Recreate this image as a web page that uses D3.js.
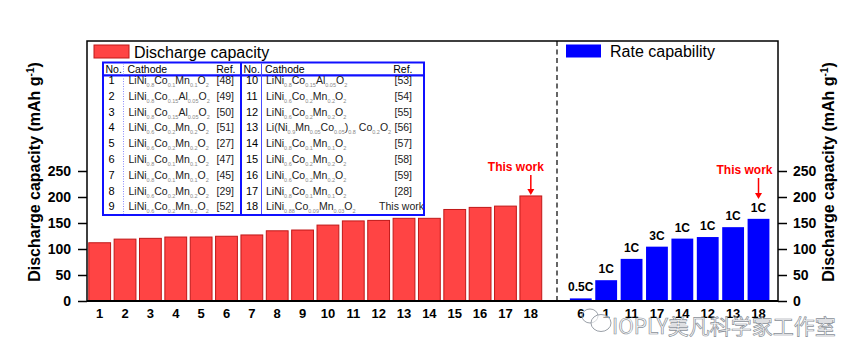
<!DOCTYPE html>
<html><head><meta charset="utf-8">
<script src="https://cdn.jsdelivr.net/npm/d3@7"></script>
<style>body{margin:0;background:#fff}svg{display:block}</style>
</head><body><svg id="c" width="865" height="361"></svg>
<script>
// ---- data ----
const capCategories = ["1","2","3","4","5","6","7","8","9","10","11","12","13","14","15","16","17","18"];
const capValues = [112,119,120.5,123,123,124.5,127,135,136.5,146,154,155,159,159,176,180,182.5,202];
const rateCategories = ["6","1","11","17","14","12","13","18"];
const rateValues = [5,40,81,104.5,120,123,142,158];
const rateLabels = ["0.5C","1C","1C","3C","1C","1C","1C","1C"];
const yTicks = [0,50,100,150,200,250];
const tableNo = ["1","2","3","4","5","6","7","8","9","10","11","12","13","14","15","16","17","18"];
const tableCathode = [
 "LiNi_{0.8}Co_{0.1}Mn_{0.1}O_{2}","LiNi_{0.8}Co_{0.15}Al_{0.05}O_{2}","LiNi_{0.8}Co_{0.15}Al_{0.05}O_{2}",
 "LiNi_{0.6}Co_{0.2}Mn_{0.2}O_{2}","LiNi_{0.6}Co_{0.2}Mn_{0.2}O_{2}","LiNi_{0.8}Co_{0.1}Mn_{0.1}O_{2}",
 "LiNi_{0.8}Co_{0.1}Mn_{0.1}O_{2}","LiNi_{0.6}Co_{0.2}Mn_{0.2}O_{2}","LiNi_{0.6}Co_{0.2}Mn_{0.2}O_{2}",
 "LiNi_{0.8}Co_{0.15}Al_{0.05}O_{2}","LiNi_{0.6}Co_{0.2}Mn_{0.2}O_{2}","LiNi_{0.6}Co_{0.2}Mn_{0.2}O_{2}",
 "Li(Ni_{0.9}Mn_{0.05}Co_{0.05})_{0.8} Co_{0.2}O_{2}","LiNi_{0.8}Co_{0.1}Mn_{0.1}O_{2}","LiNi_{0.6}Co_{0.2}Mn_{0.2}O_{2}",
 "LiNi_{0.6}Co_{0.2}Mn_{0.2}O_{2}","LiNi_{0.8}Co_{0.1}Mn_{0.1}O_{2}","LiNi_{0.88}Co_{0.09}Mn_{0.03}O_{2}"];
const tableRef = ["[48]","[49]","[50]","[51]","[27]","[47]","[45]","[29]","[52]","[53]","[54]","[55]","[56]","[57]","[58]","[59]","[28]","This work"];

// ---- layout ----
const svg = d3.select("#c");
const F = "'Liberation Sans', Arial, sans-serif";
const L = 87, R = 778, T = 41, B = 301, DIV = 557;
const y = d3.scaleLinear().domain([0,500]).range([B,T]);
const xL = d3.scaleBand().domain(capCategories).range([87,543.5]).paddingInner(0.14).paddingOuter(0.07);
const xR = d3.scaleBand().domain(rateCategories).range([568.1,771.2]).paddingInner(0.14).paddingOuter(0.07);

// bars
svg.append("g").selectAll("rect").data(capValues).join("rect")
  .attr("x",(d,i)=>xL(capCategories[i])).attr("width",xL.bandwidth())
  .attr("y",d=>y(d)).attr("height",d=>B-y(d))
  .attr("fill","#ff4444").attr("stroke","#c01818").attr("stroke-width",1);
svg.append("g").selectAll("rect").data(rateValues).join("rect")
  .attr("x",(d,i)=>xR(rateCategories[i])).attr("width",xR.bandwidth())
  .attr("y",d=>y(d)).attr("height",d=>B-y(d))
  .attr("fill","#0000ff");

// rate labels
svg.append("g").selectAll("text").data(rateValues).join("text")
  .attr("x",(d,i)=>xR(rateCategories[i])+xR.bandwidth()/2)
  .attr("y",d=>y(d)-7).attr("text-anchor","middle")
  .attr("font-family",F).attr("font-weight","bold").attr("font-size",12)
  .text((d,i)=>rateLabels[i]);

// frame
svg.append("line").attr("x1",DIV).attr("x2",DIV).attr("y1",T).attr("y2",B)
  .attr("stroke","#000").attr("stroke-width",1.2).attr("stroke-dasharray","5,3.5");
svg.append("rect").attr("x",L).attr("y",T).attr("width",R-L).attr("height",B-T)
  .attr("fill","none").attr("stroke","#000").attr("stroke-width",1.5);
svg.append("line").attr("x1",L).attr("x2",R).attr("y1",B).attr("y2",B).attr("stroke","#000").attr("stroke-width",2);

// axes
function styleAxis(g, size){
  g.select(".domain").remove();
  g.selectAll(".tick line").attr("stroke","#000").attr("stroke-width",1.5);
  g.selectAll("text").attr("font-family",F).attr("font-weight","bold").attr("font-size",size).attr("fill","#000");
}
svg.append("g").attr("transform",`translate(${L},0)`)
  .call(d3.axisLeft(y).tickValues(yTicks).tickSize(9).tickPadding(7)).call(g=>styleAxis(g,14));
svg.append("g").attr("transform",`translate(${R},0)`)
  .call(d3.axisRight(y).tickValues(yTicks).tickSize(9).tickPadding(6)).call(g=>styleAxis(g,14));
svg.append("g").attr("transform",`translate(0,${B})`)
  .call(d3.axisBottom(xL).tickSize(0).tickPadding(8)).call(g=>styleAxis(g,13));
svg.append("g").attr("transform",`translate(0,${B})`)
  .call(d3.axisBottom(xR).tickSize(0).tickPadding(8)).call(g=>styleAxis(g,13));

// axis titles
function yTitle(x){
  const t = svg.append("text").attr("transform",`translate(${x},172) rotate(-90)`)
    .attr("text-anchor","middle").attr("font-family",F).attr("font-weight","bold").attr("font-size",16);
  t.append("tspan").text("Discharge capacity (mAh g");
  t.append("tspan").attr("dy",-6).attr("font-size",10).text("-1");
  t.append("tspan").attr("dy",6).text(")");
}
yTitle(40); yTitle(834);

// legends
svg.append("rect").attr("x",94).attr("y",45).attr("width",35).attr("height",13).attr("fill","#ff4444").attr("stroke","#c01818");
svg.append("text").attr("x",134).attr("y",57.5).attr("font-family",F).attr("font-size",16).text("Discharge capacity");
svg.append("rect").attr("x",566).attr("y",44.5).attr("width",35).attr("height",13).attr("fill","#0000ff");
svg.append("text").attr("x",610).attr("y",57).attr("font-family",F).attr("font-size",16).text("Rate capability");

// "This work" annotations
function thisWork(cx, tx, ty, y1, y2){
  svg.append("text").attr("x",tx).attr("y",ty).attr("text-anchor","middle").attr("font-family",F)
    .attr("font-weight","bold").attr("font-size",12).attr("fill","#ff0000").text("This work");
  svg.append("line").attr("x1",cx).attr("x2",cx).attr("y1",y1).attr("y2",y2-5).attr("stroke","#ff0000").attr("stroke-width",1.5);
  svg.append("path").attr("d",`M${cx-3.5},${y2-6}L${cx+3.5},${y2-6}L${cx},${y2}Z`).attr("fill","#ff0000");
}
const c18 = xL("18")+xL.bandwidth()/2;
thisWork(c18, c18-15, 171, 175, y(capValues[17])-1);
const r18 = xR("18")+xR.bandwidth()/2;
thisWork(r18, r18-14, 174, 178, 199);

// table
const tb = svg.append("g");
const TL = 103, TM = 241, TR = 424, TT = 62.5, TH = 75.5, TB = 215;
const blue = "#1010ff";
tb.append("rect").attr("x",TL).attr("y",TT).attr("width",TR-TL).attr("height",TH-TT).attr("fill","#fff").attr("stroke",blue).attr("stroke-width",2);
tb.append("rect").attr("x",TL).attr("y",TH).attr("width",TM-TL).attr("height",TB-TH).attr("fill","#fff").attr("stroke",blue).attr("stroke-width",2);
tb.append("rect").attr("x",TM).attr("y",TH).attr("width",TR-TM).attr("height",TB-TH).attr("fill","#fff").attr("stroke",blue).attr("stroke-width",2);
tb.append("line").attr("x1",TM).attr("x2",TM).attr("y1",TT).attr("y2",TH).attr("stroke",blue).attr("stroke-width",2);
tb.append("line").attr("x1",123.5).attr("x2",123.5).attr("y1",TT+1).attr("y2",TB-1).attr("stroke","#8a8aff").attr("stroke-width",1).attr("stroke-dasharray","1,1.5");
tb.append("line").attr("x1",261.5).attr("x2",261.5).attr("y1",TT+1).attr("y2",TB-1).attr("stroke","#4a4aff").attr("stroke-width",1);
function hdr(x0, xC, xRef){
  tb.append("text").attr("x",x0).attr("y",72.5).attr("font-family",F).attr("font-size",10.5).text("No.");
  tb.append("text").attr("x",xC).attr("y",72.5).attr("font-family",F).attr("font-size",10.5).text("Cathode");
  tb.append("text").attr("x",xRef).attr("y",72.5).attr("text-anchor","end").attr("font-family",F).attr("font-size",10.5).text("Ref.");
}
hdr(105.5,127.5,235.5); hdr(243.5,265,412.5);
function formula(sel, s){
  const parts = s.split(/(_\{[^}]*\})/).filter(p=>p.length);
  let sub=false;
  parts.forEach(p=>{
    if(p.startsWith("_{")){
      sel.append("tspan").attr("dy",sub?0:3).attr("font-size",5.5).attr("fill","#888").text(p.slice(2,-1));
      sub=true;
    } else {
      sel.append("tspan").attr("dy",sub?-3:0).text(p);
      sub=false;
    }
  });
}
const tc = tb.append("g");
tableNo.forEach((n,i)=>{
  const left = i<9, r = left?i:i-9;
  const yy = 84 + r*15.8;
  tb.append("text").attr("x",left?111.5:252).attr("y",yy).attr("text-anchor","middle")
    .attr("font-family",F).attr("font-size",11).text(n);
  const t = tb.append("text").attr("x",left?128.5:266).attr("y",yy).attr("font-family",F).attr("font-size",10.5).attr("fill","#222");
  formula(t, tableCathode[i]);
  tb.append("text").attr("x",left?234:(i===17?424:412)).attr("y",yy).attr("text-anchor","end")
    .attr("font-family",F).attr("font-size",10.5).attr("fill","#222").text(tableRef[i]);
});

// watermark
const wm = svg.append("g").attr("fill","none").attr("stroke","#9aa0a8").attr("stroke-width",1);
wm.append("ellipse").attr("cx",590).attr("cy",316).attr("rx",8).attr("ry",7);
wm.append("ellipse").attr("cx",601).attr("cy",323).attr("rx",10).attr("ry",8.5).attr("fill","#fff").attr("fill-opacity",0.6);
svg.append("text").attr("x",612).attr("y",334).attr("font-family","'Noto Sans CJK SC', sans-serif").attr("font-size",21)
  .attr("fill","#fff").attr("fill-opacity",0.55).attr("stroke","#8a9098").attr("stroke-width",0.7).text("IOPLY美凡科学家工作室");
</script></body></html>
